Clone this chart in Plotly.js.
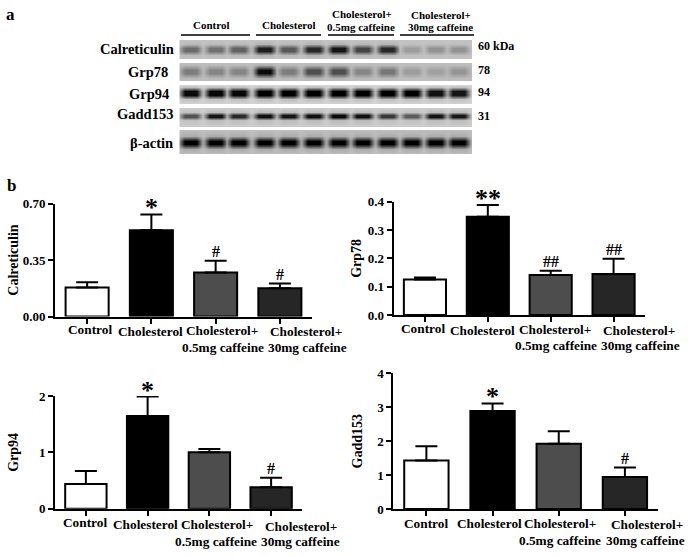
<!DOCTYPE html>
<html>
<head>
<meta charset="utf-8">
<script src="https://cdn.plot.ly/plotly-3.0.1.min.js"></script>
<style>
html, body { margin: 0; padding: 0; background: #fff; }
#chart { width: 694px; height: 557px; }
</style>
</head>
<body>
<div id="chart"></div>
<script>
// Datos
const groups = ['Control', 'Cholesterol', 'Cholesterol+ 0.5mg caffeine', 'Cholesterol+ 30mg caffeine'];
const calreticulin = [0.179, 0.535, 0.272, 0.175];
const calreticulinErr = [0.033, 0.097, 0.074, 0.029];
const grp78 = [0.125, 0.347, 0.141, 0.145];
const grp78Err = [0.007, 0.041, 0.015, 0.054];
const grp94 = [0.44, 1.645, 1.0, 0.38];
const grp94Err = [0.23, 0.345, 0.06, 0.17];
const gadd153 = [1.43, 2.89, 1.92, 0.94];
const gadd153Err = [0.42, 0.22, 0.37, 0.28];
const calreticulinMarks = ['', '*', '#', '#'];
const grp78Marks = ['', '**', '##', '##'];
const grp94Marks = ['', '*', '', '#'];
const gadd153Marks = ['', '*', '', '#'];

// Oscuridad de cada banda del blot (12 carriles, 0 = fondo, 1 = negro)
const blotCalreticulin = [0.45, 0.42, 0.5, 0.85, 0.55, 0.8, 0.9, 0.65, 0.8, 0.2, 0.25, 0.25];
const blotGrp78 = [0.35, 0.3, 0.3, 0.95, 0.35, 0.6, 0.6, 0.3, 0.38, 0.18, 0.16, 0.22];
const blotGrp94 = [0.95, 0.97, 0.97, 1, 1, 1, 1, 1, 1, 1, 0.92, 0.9];
const blotGadd153 = [0.6, 0.9, 0.8, 0.92, 0.9, 0.92, 0.95, 0.92, 0.72, 0.55, 0.9, 0.88];
const blotActin = [1, 1, 1, 1, 1, 1, 1, 1, 1, 1, 1, 1];
const blotLanes = [190, 215, 238, 264, 288, 313, 338, 362, 387, 411, 435, 458];

const W = 694, H = 557;
const serif = 'Liberation Serif, Times New Roman, serif';
const font = (size) => ({ family: serif, size: size, color: '#000', weight: 700 });
const px = (x) => x / W;
const py = (y) => 1 - y / H;

const traces = [];
const layout = {
    width: W, height: H,
    margin: { l: 0, r: 0, t: 0, b: 0 },
    paper_bgcolor: '#fff', plot_bgcolor: 'rgba(0,0,0,0)',
    showlegend: false,
    annotations: [],
    shapes: []
};

function label(text, x, y, size, extra) {
    layout.annotations.push(Object.assign({
        text: text, x: px(x), y: py(y), xref: 'paper', yref: 'paper',
        showarrow: false, font: font(size), xanchor: 'center', yanchor: 'middle'
    }, extra || {}));
}

// Grafico de barras
function addBars(n, opts) {
    const xa = 'xaxis' + n, ya = 'yaxis' + n;
    traces.push({
        type: 'bar',
        x: [0, 1, 2, 3],
        y: opts.values,
        width: 0.67,
        xaxis: 'x' + n, yaxis: 'y' + n,
        marker: { color: ['#ffffff', '#000000', '#4d4d4d', '#262626'], line: { color: '#000', width: 2 } },
        error_y: { type: 'data', symmetric: false, array: opts.errors, arrayminus: [0, 0, 0, 0], color: '#000', thickness: 2, width: 11 }
    });
    layout[xa] = {
        domain: [px(opts.left), px(opts.right)], range: [-0.5, 3.5], anchor: 'y' + n,
        tickvals: [0, 1, 2, 3], showticklabels: false, ticks: 'outside', ticklen: 5, tickwidth: 2,
        tickcolor: '#000', showline: true, linecolor: '#000', linewidth: 2, showgrid: false, zeroline: false
    };
    layout[ya] = {
        domain: [py(opts.bottom), py(opts.top)], range: [0, opts.max], anchor: 'x' + n,
        tickvals: opts.ticks, ticktext: opts.tickText, tickfont: font(13), ticks: 'outside', ticklen: 5, tickwidth: 2,
        tickcolor: '#000', showline: true, linecolor: '#000', linewidth: 2, showgrid: false, zeroline: false,
        title: { text: opts.title, font: font(14), standoff: opts.standoff }
    };
    opts.marks.forEach((m, i) => {
        if (!m) return;
        const star = m.indexOf('*') >= 0;
        layout.annotations.push({
            text: m, x: i, y: opts.values[i] + opts.errors[i], xref: 'x' + n, yref: 'y' + n,
            showarrow: false, font: font(star ? 26 : 16), yanchor: 'bottom', yshift: star ? -10 : -1
        });
    });
    opts.labels.forEach((l) => label(l[0], l[1], l[2], 13.3));
}

addBars(1, {
    values: calreticulin, errors: calreticulinErr, marks: calreticulinMarks, title: 'Calreticulin', standoff: 1,
    left: 55, right: 312, top: 203.5, bottom: 316.5, max: 0.7, ticks: [0, 0.35, 0.7], tickText: ['0.00', '0.35', '0.70'],
    labels: [['Control', 90, 329], ['Cholesterol', 150, 331], ['Cholesterol+', 222, 330], ['0.5mg caffeine', 223, 347], ['Cholesterol+', 306, 331], ['30mg caffeine', 307, 347]]
});
addBars(2, {
    values: grp78, errors: grp78Err, marks: grp78Marks, title: 'Grp78', standoff: 3,
    left: 393.5, right: 645, top: 201.7, bottom: 315, max: 0.4, ticks: [0, 0.1, 0.2, 0.3, 0.4], tickText: ['0.0', '0.1', '0.2', '0.3', '0.4'],
    labels: [['Control', 423, 328], ['Cholesterol', 482, 330], ['Cholesterol+', 555, 329], ['0.5mg caffeine', 556, 345], ['Cholesterol+', 639, 330], ['30mg caffeine', 640, 345]]
});
addBars(3, {
    values: grp94, errors: grp94Err, marks: grp94Marks, title: 'Grp94', standoff: 17,
    left: 55, right: 302, top: 396, bottom: 508.7, max: 2, ticks: [0, 1, 2], tickText: ['0', '1', '2'],
    labels: [['Control', 85, 522], ['Cholesterol', 145, 524], ['Cholesterol+', 217, 524], ['0.5mg caffeine', 216, 541], ['Cholesterol+', 301, 526], ['30mg caffeine', 300, 541]]
});
addBars(4, {
    values: gadd153, errors: gadd153Err, marks: gadd153Marks, title: 'Gadd153', standoff: 11,
    left: 393.3, right: 658, top: 373.3, bottom: 509, max: 4, ticks: [0, 1, 2, 3, 4], tickText: ['0', '1', '2', '3', '4'],
    labels: [['Control', 426, 523], ['Cholesterol', 489, 523], ['Cholesterol+', 560, 523], ['0.5mg caffeine', 560, 540], ['Cholesterol+', 647, 524], ['30mg caffeine', 645, 540]]
});

// Tiras del western blot como heatmap
function addBlot(n, bands, top, bottom, bg, mid, spread) {
    const xs = [179], edge = [];
    blotLanes.forEach((c) => {
        xs.push(c - 12, c - 6, c + 6, c + 12);
    });
    xs.push(472);
    const profile = [0, 0.1, 1, 1, 0.1, 0];
    const ys = [0, mid - spread * 1.7, mid - spread * 0.45, mid + spread * 0.45, mid + spread * 1.7, 1];
    const z = profile.map((p) => {
        const row = [bg];
        bands.forEach((b) => {
            row.push(bg * (1 - b * p * 0.15), bg * (1 - b * p), bg * (1 - b * p), bg * (1 - b * p * 0.15));
        });
        row.push(bg);
        return row;
    });
    traces.push({
        type: 'heatmap', x: xs, y: ys, z: z, zsmooth: 'best', zmin: 0, zmax: 255, showscale: false, hoverinfo: 'skip',
        colorscale: [[0, '#000000'], [1, '#ffffff']], xaxis: 'x' + n, yaxis: 'y' + n
    });
    const hidden = { visible: false, showgrid: false, zeroline: false };
    layout['xaxis' + n] = Object.assign({ domain: [px(179), px(472)], range: [179, 472], anchor: 'y' + n }, hidden);
    layout['yaxis' + n] = Object.assign({ domain: [py(bottom), py(top)], range: [1, 0], anchor: 'x' + n }, hidden);
}

addBlot(5, blotCalreticulin, 40, 59, 195, 0.5, 0.16);
addBlot(6, blotGrp78, 63, 81, 190, 0.46, 0.22);
addBlot(7, blotGrp94, 85, 104, 212, 0.42, 0.2);
addBlot(8, blotGadd153, 108, 127, 205, 0.42, 0.11);
addBlot(9, blotActin, 130, 154, 190, 0.52, 0.16);

// Rotulos del panel a
label('a', 10, 15, 17);
label('b', 11, 185, 17);
[['Calreticulin', 137, 49], ['Grp78', 148, 72], ['Grp94', 149, 94], ['Gadd153', 145, 114], ['β-actin', 151, 143]].forEach((l) => label(l[0], l[1], l[2], 14.5));
[['60 kDa', 496, 46], ['78', 484, 70], ['94', 484, 92], ['31', 484, 116]].forEach((l) => label(l[0], l[1], l[2], 12));
[['Control', 211, 25], ['Cholesterol', 289, 25], ['Cholesterol+', 362, 14], ['0.5mg caffeine', 361, 27], ['Cholesterol+', 441, 15], ['30mg caffeine', 440, 27]].forEach((l) => label(l[0], l[1], l[2], 11));
[[181, 250], [256, 321], [328, 394], [400, 474]].forEach((s) => {
    layout.shapes.push({ type: 'line', xref: 'paper', yref: 'paper', x0: px(s[0]), x1: px(s[1]), y0: py(35), y1: py(35), line: { color: '#000', width: 1.5 } });
});

Plotly.newPlot('chart', traces, layout, { displayModeBar: false, staticPlot: true });
</script>
</body>
</html>
